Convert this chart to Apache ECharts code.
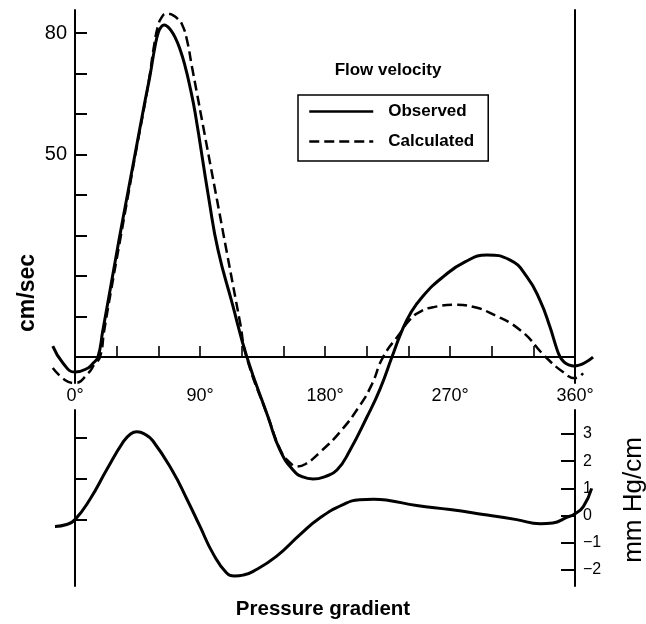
<!DOCTYPE html>
<html><head><meta charset="utf-8">
<script src="https://cdn.jsdelivr.net/npm/echarts@6/dist/echarts.min.js"></script>
<style>html,body{margin:0;padding:0;background:#fff}#c{width:646px;height:624px}</style>
</head><body><div id="c"></div>
<script>
// Phase angle (degrees) and values
const observedDeg = [-16, -8.6, 0, 9.4, 13, 16.5, 20, 26, 32, 38, 44, 50, 54, 57.5, 60, 62.2, 64.2, 66.3, 68.4, 72, 75.6, 79.2, 82.8, 86.4, 96.5, 103, 113, 123.8, 139, 147.6, 157, 164, 171.4, 180, 188.6, 198, 210.2, 219.6, 228.2, 234.7, 241.2, 250.6, 265, 280.8, 296.6, 313, 325.4, 334.8, 342, 346, 349, 352, 355.5, 359, 363, 368, 373];
const observedVel = [2.7, -1.5, -3.7, -2.7, -1.5, 0, 6.5, 18, 29.5, 40.5, 51.5, 62.5, 69.5, 76.5, 80.2, 81.6, 82, 81.7, 81, 79, 76, 71.9, 66.7, 60.5, 38.8, 26.4, 13.5, 0, -14.8, -23, -27.9, -29.6, -30.1, -29.5, -27.9, -23, -14.8, -7.9, 0, 5.9, 10.6, 15.1, 19.8, 23.5, 25.2, 24, 19.8, 14, 7.4, 3, 0.2, -1.2, -1.9, -2.2, -2, -1.2, 0];

const calculatedDeg = [-16, -7, 0, 9.4, 14, 18, 21, 26, 32, 38, 44, 50, 54, 56.5, 59.8, 62.6, 65.5, 68.4, 71, 73.4, 77, 80.6, 84.2, 87.8, 92.2, 102.2, 109.4, 118.8, 123.5, 139, 148, 154, 160, 166, 176.4, 190.8, 205.2, 213.8, 221.8, 234, 241, 249, 259, 275, 288, 298.8, 320.4, 338.4, 351.4, 360, 365.8];
const calculatedVel = [-2.7, -5.7, -6.4, -4, -1.8, 0, 6.5, 16.5, 28, 39.5, 51, 62, 70, 76, 81.8, 84, 84.8, 84.7, 84.3, 83.7, 82.2, 78.3, 71.7, 65.2, 57.1, 38.9, 25.7, 8.6, 0, -14.8, -23, -25.8, -27, -26.4, -23.5, -18.5, -11.9, -6.7, 0, 5.9, 9.2, 11.3, 12.4, 12.9, 12.3, 10.9, 6.7, 0.2, -3.7, -5.2, -4];

const pressureDeg = [-14.4, -6, 0, 10.8, 23, 34.6, 40, 44.6, 50, 56, 70.6, 80.6, 90, 99.4, 109, 115, 121, 128, 145, 162, 176, 193, 205, 215, 225, 246, 270, 294, 318, 335, 344, 354, 360, 366, 372];
const pressureVal = [-0.4, -0.33, -0.15, 0.6, 1.7, 2.7, 3.0, 3.08, 3.0, 2.75, 1.6, 0.6, -0.4, -1.4, -2.1, -2.22, -2.19, -2.06, -1.5, -0.7, -0.1, 0.4, 0.58, 0.6, 0.56, 0.37, 0.22, 0.04, -0.15, -0.3, -0.27, -0.07, 0.07, 0.33, 1.0];

const xTicks = [30, 60, 90, 120, 150, 180, 210, 240, 270, 300, 330];
const xLabels = [0, 90, 180, 270, 360];
const velTicks = [10, 20, 30, 40, 50, 60, 70, 80];
const velLabels = [50, 80];
const pressureTicks = [-2, -1, 0, 1, 2, 3];
const lowerLeftTicks = [0, 1, 2];
const phaseStart = 0, phaseEnd = 360;

const FONT = '"Liberation Sans", Arial, Helvetica, sans-serif';
const zip = (a, b) => a.map((v, i) => [v, b[i]]);
const black = '#000';

// plot spans 0..360 deg over 500 px; extend range by 20 deg each side so curves can run past the axes
const X_MIN = -20, X_MAX = 380;
const PX_PER_DEG = 500 / 360;
const EXT = 20 * PX_PER_DEG;
const GL = 75 - EXT, GR = 646 - (575 + EXT);
const SMOOTH = 0.5;

const chart = echarts.init(document.getElementById('c'), null, {renderer: 'canvas'});
chart.setOption({
  animation: false,
  backgroundColor: '#fff',
  textStyle: {fontFamily: FONT, color: black},
  grid: [
    {left: GL, right: GR, top: 10, height: 373},
    {left: GL, right: GR, top: 410, height: 176}
  ],
  xAxis: [
    {
      gridIndex: 0, type: 'value', min: X_MIN, max: X_MAX,
      axisLine: {show: false, onZero: true, onZeroAxisIndex: 0},
      axisTick: {show: true, inside: true, length: 11, customValues: xTicks, lineStyle: {color: black, width: 1.6}},
      axisLabel: {show: true, customValues: xLabels, formatter: v => v + '°', margin: 4, fontSize: 18, color: black, fontFamily: FONT},
      splitLine: {show: false}
    },
    {gridIndex: 1, type: 'value', min: X_MIN, max: X_MAX, show: false}
  ],
  yAxis: [
    {
      gridIndex: 0, type: 'value', position: 'left', offset: -EXT, min: -6.4, max: 85.7,
      axisLine: {show: true, onZero: false, lineStyle: {color: black, width: 2}},
      axisTick: {show: true, inside: true, length: 12, customValues: velTicks, lineStyle: {color: black, width: 2}},
      axisLabel: {show: true, customValues: velLabels, fontSize: 20, margin: 8, color: black, fontFamily: FONT},
      splitLine: {show: false}
    },
    {
      gridIndex: 0, type: 'value', position: 'right', offset: -EXT, min: -6.4, max: 85.7,
      axisLine: {show: true, onZero: false, lineStyle: {color: black, width: 2}},
      axisTick: {show: false}, axisLabel: {show: false}, splitLine: {show: false}
    },
    {
      gridIndex: 1, type: 'value', position: 'left', offset: -EXT, min: -1.61, max: 2.68,
      axisLine: {show: true, onZero: false, lineStyle: {color: black, width: 2}},
      axisTick: {show: true, inside: true, length: 12, customValues: lowerLeftTicks, lineStyle: {color: black, width: 2}},
      axisLabel: {show: false}, splitLine: {show: false}
    },
    {
      gridIndex: 1, type: 'value', position: 'right', offset: -EXT, min: -2.59, max: 3.88,
      axisLine: {show: true, onZero: false, lineStyle: {color: black, width: 2}},
      axisTick: {show: true, inside: true, length: 14, customValues: pressureTicks, lineStyle: {color: black, width: 2}},
      axisLabel: {show: true, customValues: pressureTicks, formatter: v => (v < 0 ? '\u2212' + Math.abs(v) : '' + v), fontSize: 16, margin: 8, color: black, fontFamily: FONT},
      splitLine: {show: false}
    }
  ],
  legend: {
    data: ['Observed', 'Calculated'],
    orient: 'vertical', left: 298, top: 95,
    itemWidth: 64, itemHeight: 14, itemGap: 13,
    borderColor: black, borderWidth: 1.5, borderRadius: 0,
    padding: [8, 14, 11, 10],
    itemStyle: {opacity: 0},
    lineStyle: {width: 2.5},
    textStyle: {fontSize: 17, fontWeight: 'bold', color: black, fontFamily: FONT, padding: [0, 0, 0, 10]}
  },
  graphic: [
    {type: 'text', x: 388, y: 70, style: {text: 'Flow velocity', align: 'center', verticalAlign: 'middle', fontSize: 17, fontWeight: 'bold', fontFamily: FONT, fill: black}},
    {type: 'text', x: 28, y: 293, rotation: Math.PI / 2, style: {text: 'cm/sec', align: 'center', verticalAlign: 'middle', fontSize: 23, fontWeight: 'bold', fontFamily: FONT, fill: black}},
    {type: 'text', x: 634, y: 500, rotation: Math.PI / 2, style: {text: 'mm Hg/cm', align: 'center', verticalAlign: 'middle', fontSize: 26, fontFamily: FONT, fill: black}},
    {type: 'text', x: 323, y: 609, style: {text: 'Pressure gradient', align: 'center', verticalAlign: 'middle', fontSize: 20.5, fontWeight: 'bold', fontFamily: FONT, fill: black}}
  ],
  series: [
    {
      type: 'line', name: 'Observed', xAxisIndex: 0, yAxisIndex: 0,
      data: zip(observedDeg, observedVel), smooth: SMOOTH, symbol: 'none', clip: false,
      color: black, lineStyle: {color: black, width: 3}, z: 3,
      markLine: {
        silent: true, symbol: 'none', label: {show: false},
        lineStyle: {color: black, width: 2, type: 'solid'},
        data: [[{coord: [phaseStart, 0]}, {coord: [phaseEnd, 0]}]]
      }
    },
    {
      type: 'line', name: 'Calculated', xAxisIndex: 0, yAxisIndex: 0,
      data: zip(calculatedDeg, calculatedVel), smooth: SMOOTH, symbol: 'none', clip: false,
      color: black, lineStyle: {color: black, width: 2.5, type: [10, 5]}, z: 2
    },
    {
      type: 'line', name: 'Pressure', xAxisIndex: 1, yAxisIndex: 3,
      data: zip(pressureDeg, pressureVal), smooth: SMOOTH, symbol: 'none', clip: false,
      color: black, lineStyle: {color: black, width: 3}, z: 3
    }
  ]
});
</script>
</body></html>
